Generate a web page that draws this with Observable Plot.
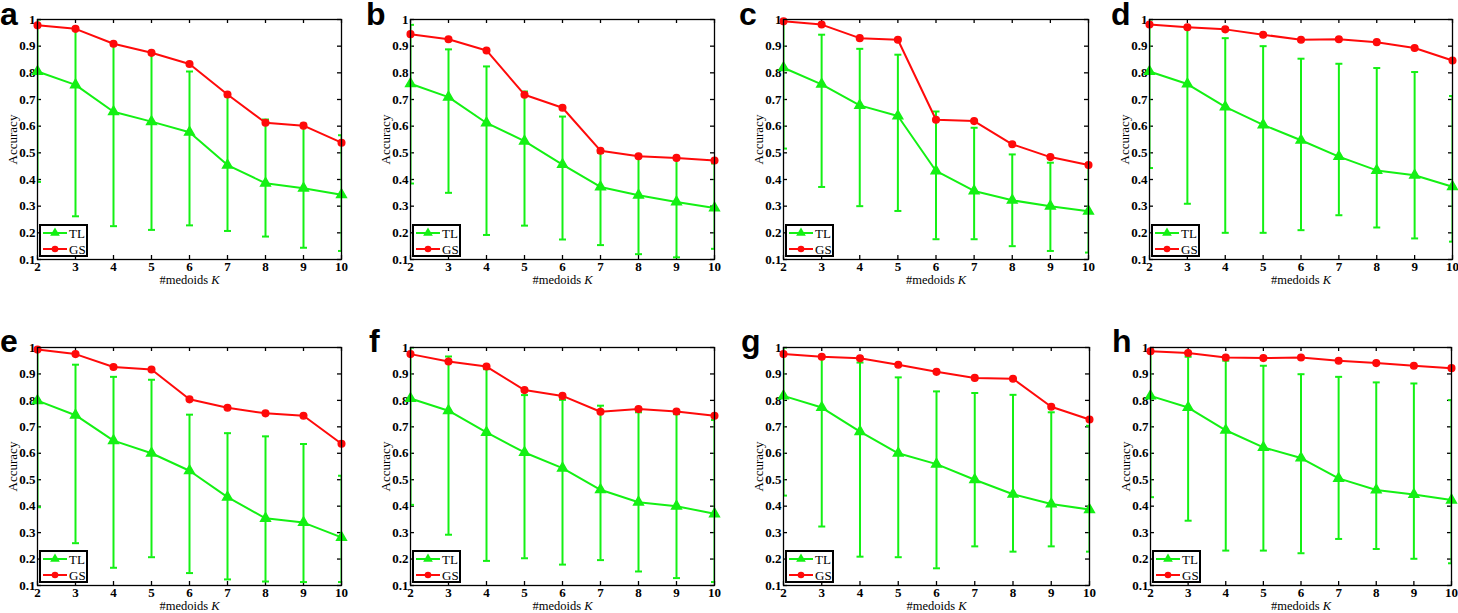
<!DOCTYPE html>
<html>
<head>
<meta charset="utf-8">
<script src="https://cdn.jsdelivr.net/npm/d3@7"></script>
<script src="https://cdn.jsdelivr.net/npm/@observablehq/plot@0.6"></script>
<style>
  html, body { margin: 0; padding: 0; background: #fff; }
  #root { position: relative; width: 1458px; height: 613px; overflow: hidden; background: #fff; }
  .panel { position: absolute; }
  .panel g[aria-label="y-axis tick label"], .panel g[aria-label="x-axis tick label"] { font-size: 13px !important; font-weight: bold; }
  .panel g[aria-label="y-axis label"] { font-size: 13px !important; }
  .panel g[aria-label="x-axis label"] { font-size: 12.5px !important; }
  .letter { position: absolute; font-family: "Liberation Sans", Arial, sans-serif; font-weight: bold; font-size: 32px; line-height: 1; color: #000; }
  .legend { position: absolute; width: 45px; height: 29px; border: 2px solid #000; background: #fff; box-sizing: content-box; }
</style>
</head>
<body>
<div id="root"></div>
<script>
// ---- Data ----
const K = [2, 3, 4, 5, 6, 7, 8, 9, 10];
const yTicks = [0.1, 0.2, 0.3, 0.4, 0.5, 0.6, 0.7, 0.8, 0.9, 1];
const panelLetters = ["a", "b", "c", "d", "e", "f", "g", "h"];
const seriesNames = ["TL", "GS"];

const gsA = [0.978, 0.965, 0.909, 0.875, 0.833, 0.719, 0.613, 0.602, 0.538];
const tlA = [0.805, 0.755, 0.654, 0.617, 0.577, 0.454, 0.386, 0.367, 0.343];
const tlLoA = [0.391, 0.262, 0.225, 0.211, 0.228, 0.207, 0.186, 0.144, 0.132];
const tlHiA = [1.0, 0.971, 0.903, 0.870, 0.805, 0.712, 0.625, 0.609, 0.566];

const gsB = [0.945, 0.926, 0.884, 0.718, 0.669, 0.508, 0.487, 0.481, 0.471];
const tlB = [0.759, 0.709, 0.612, 0.544, 0.456, 0.372, 0.341, 0.316, 0.293];
const tlLoB = [0.385, 0.350, 0.192, 0.227, 0.175, 0.154, 0.120, 0.108, 0.140];
const tlHiB = [0.980, 0.888, 0.824, 0.730, 0.636, 0.500, 0.484, 0.484, 0.460];

const gsC = [0.993, 0.981, 0.930, 0.924, 0.624, 0.619, 0.532, 0.484, 0.454];
const tlC = [0.819, 0.757, 0.678, 0.638, 0.432, 0.357, 0.322, 0.300, 0.281];
const tlLoC = [0.516, 0.372, 0.300, 0.282, 0.176, 0.176, 0.150, 0.132, 0.126];
const tlHiC = [1.0, 0.943, 0.890, 0.868, 0.655, 0.594, 0.494, 0.463, 0.460];

const gsD = [0.981, 0.971, 0.963, 0.943, 0.924, 0.926, 0.915, 0.893, 0.846];
const tlD = [0.805, 0.758, 0.672, 0.605, 0.547, 0.486, 0.434, 0.416, 0.373];
const tlLoD = [0.443, 0.309, 0.200, 0.200, 0.210, 0.266, 0.220, 0.179, 0.167];
const tlHiD = [1.0, 0.968, 0.930, 0.900, 0.853, 0.834, 0.818, 0.803, 0.713];

const gsE = [0.992, 0.975, 0.926, 0.917, 0.804, 0.772, 0.751, 0.742, 0.636];
const tlE = [0.799, 0.744, 0.648, 0.600, 0.534, 0.434, 0.354, 0.338, 0.282];
const tlLoE = [0.396, 0.260, 0.167, 0.207, 0.147, 0.123, 0.115, 0.113, 0.113];
const tlHiE = [1.0, 0.935, 0.889, 0.878, 0.746, 0.676, 0.664, 0.635, 0.515];

const gsF = [0.975, 0.947, 0.928, 0.839, 0.817, 0.757, 0.767, 0.758, 0.742];
const tlF = [0.807, 0.761, 0.679, 0.603, 0.544, 0.462, 0.415, 0.400, 0.371];
const tlLoF = [0.405, 0.292, 0.193, 0.203, 0.179, 0.196, 0.153, 0.128, 0.113];
const tlHiF = [1.0, 0.966, 0.918, 0.820, 0.802, 0.780, 0.755, 0.748, 0.726];

const gsG = [0.975, 0.965, 0.959, 0.935, 0.908, 0.885, 0.882, 0.776, 0.728];
const tlG = [0.817, 0.773, 0.682, 0.600, 0.559, 0.500, 0.445, 0.408, 0.387];
const tlLoG = [0.440, 0.323, 0.209, 0.207, 0.165, 0.248, 0.228, 0.248, 0.228];
const tlHiG = [1.0, 0.969, 0.943, 0.887, 0.834, 0.828, 0.821, 0.755, 0.704];

const gsH = [0.986, 0.979, 0.962, 0.960, 0.962, 0.950, 0.941, 0.931, 0.922];
const tlH = [0.817, 0.773, 0.687, 0.622, 0.582, 0.505, 0.461, 0.444, 0.423];
const tlLoH = [0.434, 0.345, 0.232, 0.232, 0.222, 0.276, 0.238, 0.201, 0.184];
const tlHiH = [1.0, 0.965, 0.950, 0.931, 0.899, 0.889, 0.868, 0.864, 0.801];

// ---- Layout (frame boxes in page pixels) ----
const frames = [
  {left: 37, top: 19, w: 304, h: 240},
  {left: 410, top: 19, w: 304, h: 240},
  {left: 783, top: 19, w: 305, h: 240},
  {left: 1149, top: 19, w: 303, h: 240},
  {left: 37, top: 347, w: 304, h: 238},
  {left: 410, top: 347, w: 304, h: 238},
  {left: 783, top: 347, w: 306, h: 238},
  {left: 1150, top: 347, w: 301, h: 238}
];
const letterPos = [
  {x: 0, y: -2}, {x: 366, y: -2}, {x: 739, y: -2}, {x: 1111, y: -2},
  {x: 0, y: 325}, {x: 369, y: 325}, {x: 741, y: 325}, {x: 1112, y: 325}
];

const panelData = [
  [gsA, tlA, tlLoA, tlHiA], [gsB, tlB, tlLoB, tlHiB], [gsC, tlC, tlLoC, tlHiC], [gsD, tlD, tlLoD, tlHiD],
  [gsE, tlE, tlLoE, tlHiE], [gsF, tlF, tlLoF, tlHiF], [gsG, tlG, tlLoG, tlHiG], [gsH, tlH, tlLoH, tlHiH]
];

const GREEN = "#14f014";
const RED = "#ff0a0a";
const ML = 40, MR = 10, MT = 10, MB = 40;
const TICK = 4;
const SERIF = "'Liberation Serif', 'Times New Roman', serif";

const capSymbol = {
  draw(ctx, size) {
    const r = Math.sqrt(size / Math.PI);
    ctx.moveTo(-r, 0);
    ctx.lineTo(r, 0);
  }
};

const root = document.getElementById("root");

panelData.forEach(([gs, tl, lo, hi], i) => {
  const f = frames[i];
  const rows = K.map((k, j) => ({k, gs: gs[j], tl: tl[j], lo: lo[j], hi: hi[j]}));
  const width = ML + f.w + MR;
  const height = MT + f.h + MB;
  const chart = Plot.plot({
    width, height,
    marginLeft: ML, marginRight: MR, marginTop: MT, marginBottom: MB,
    style: {fontFamily: SERIF, fontSize: "12px", color: "#000", background: "transparent", overflow: "visible"},
    x: {domain: [2, 10]},
    y: {domain: [0.1, 1]},
    marks: [
      // inward ticks on all four sides
      Plot.tickY(yTicks, {y: d => d, insetRight: f.w - TICK, stroke: "#000", strokeWidth: 1.3}),
      Plot.tickY(yTicks, {y: d => d, insetLeft: f.w - TICK, stroke: "#000", strokeWidth: 1.3}),
      Plot.tickX(K, {x: d => d, insetTop: f.h - TICK, stroke: "#000", strokeWidth: 1.3}),
      Plot.tickX(K, {x: d => d, insetBottom: f.h - TICK, stroke: "#000", strokeWidth: 1.3}),
      Plot.axisY(yTicks, {ticks: yTicks, tickSize: 0, tickPadding: 2, tickFormat: d => String(+d.toFixed(1)),
        fontSize: 13, fontWeight: "bold", label: null}),
      Plot.axisX(K, {ticks: K, tickSize: 0, tickPadding: 2, tickFormat: d => String(d),
        fontSize: 13, fontWeight: "bold", label: null}),
      Plot.axisY({label: "Accuracy", labelAnchor: "center", labelOffset: 30, labelArrow: "none",
        tickSize: 0, tickFormat: () => "", fontSize: 13}),
      Plot.axisX({label: "#medoids K", labelAnchor: "center", labelOffset: 24, labelArrow: "none",
        tickSize: 0, tickFormat: () => "", fontSize: 12.5}),
      // TL error bars
      Plot.ruleX(rows, {x: "k", y1: "lo", y2: "hi", stroke: GREEN, strokeWidth: 2, clip: true}),
      Plot.dot(rows, {x: "k", y: "lo", symbol: capSymbol, r: 3.5, stroke: GREEN, strokeWidth: 2, clip: true}),
      Plot.dot(rows, {x: "k", y: "hi", symbol: capSymbol, r: 3.5, stroke: GREEN, strokeWidth: 2, clip: true}),
      // TL mean line
      Plot.line(rows, {x: "k", y: "tl", stroke: GREEN, strokeWidth: 2}),
      Plot.dot(rows, {x: "k", y: "tl", symbol: "triangle", r: 3.6, fill: GREEN, stroke: GREEN}),
      // GS line
      Plot.line(rows, {x: "k", y: "gs", stroke: RED, strokeWidth: 2}),
      Plot.dot(rows, {x: "k", y: "gs", r: 3.3, fill: RED, stroke: RED}),
      Plot.frame({stroke: "#000", strokeWidth: 1.3})
    ]
  });
  chart.classList.add("panel");
  chart.style.left = (f.left - ML) + "px";
  chart.style.top = (f.top - MT) + "px";
  // strip any arrows and italicize K in the x-axis label
  chart.querySelectorAll("text").forEach(t => {
    const s = t.textContent.replace(/[\u2190-\u2193]/g, "").trim();
    if (s !== t.textContent) t.textContent = s;
    if (s === "#medoids K") {
      t.textContent = "";
      const a = document.createElementNS("http://www.w3.org/2000/svg", "tspan");
      a.textContent = "#medoids ";
      const b = document.createElementNS("http://www.w3.org/2000/svg", "tspan");
      b.textContent = "K";
      b.setAttribute("font-style", "italic");
      t.appendChild(a); t.appendChild(b);
    }
  });
  root.appendChild(chart);

  // panel letter
  const L = document.createElement("div");
  L.className = "letter";
  L.textContent = panelLetters[i];
  L.style.left = letterPos[i].x + "px";
  L.style.top = letterPos[i].y + "px";
  root.appendChild(L);

  // legend box
  const lg = document.createElement("div");
  lg.className = "legend";
  lg.style.left = (f.left + 2) + "px";
  lg.style.top = (f.top + f.h - 35) + "px";
  const ns = "http://www.w3.org/2000/svg";
  const svg = document.createElementNS(ns, "svg");
  svg.setAttribute("width", 45); svg.setAttribute("height", 29);
  svg.style.display = "block";
  [[GREEN, "triangle"], [RED, "circle"]].forEach(([c, sym], r) => {
    const y = 7 + r * 16;
    const ln = document.createElementNS(ns, "line");
    ln.setAttribute("x1", 2); ln.setAttribute("x2", 26); ln.setAttribute("y1", y); ln.setAttribute("y2", y);
    ln.setAttribute("stroke", c); ln.setAttribute("stroke-width", 2);
    svg.appendChild(ln);
    const mk = document.createElementNS(ns, "path");
    mk.setAttribute("d", d3.symbol(sym === "triangle" ? d3.symbolTriangle : d3.symbolCircle, sym === "triangle" ? 13 * 3.14 : 11 * 3.14)());
    mk.setAttribute("transform", `translate(14,${y})`);
    mk.setAttribute("fill", c);
    svg.appendChild(mk);
    const tx = document.createElementNS(ns, "text");
    tx.setAttribute("x", 28); tx.setAttribute("y", y + 4.5);
    tx.setAttribute("font-family", SERIF);
    tx.setAttribute("font-size", "13");
    tx.textContent = seriesNames[r];
    svg.appendChild(tx);
  });
  lg.appendChild(svg);
  root.appendChild(lg);
});
</script>
</body>
</html>
